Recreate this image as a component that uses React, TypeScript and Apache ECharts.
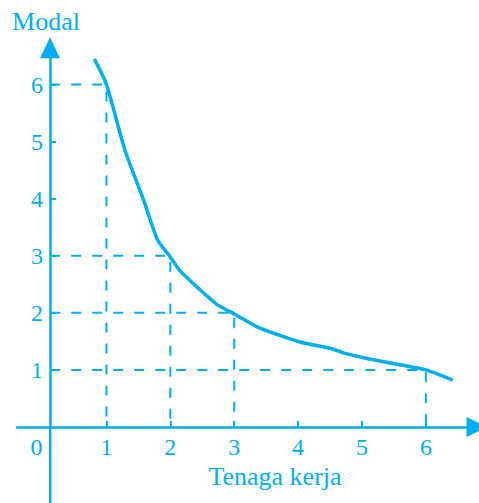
import React, { useEffect, useRef } from "react";
import * as echarts from "echarts";

const COLOR = "#00aeef";
const FONT = "Liberation Serif";

// axis tick labels
const xTicks = [1, 2, 3, 4, 5, 6];
const yTicks = [1, 2, 3, 4, 5, 6];

// isoquant curve (Tenaga kerja, Modal)
const curveX = [0.81, 1, 1.29, 1.58, 1.79, 1.9, 2, 2.15, 2.47, 2.73, 3, 3.35, 3.55, 4.03, 4.5, 4.71, 5.08, 5.6, 6, 6.42];
const curveY = [6.45, 6, 4.85, 3.98, 3.3, 3.12, 2.98, 2.74, 2.4, 2.15, 1.98, 1.76, 1.67, 1.49, 1.38, 1.3, 1.2, 1.09, 1, 0.82];

// highlighted combinations
const guideX = [1, 2, 3, 6];
const guideY = [6, 3, 2, 1];

// axis extents
const X_MIN = -0.4;
const X_MAX = 6.8;
const Y_MIN = 0;
const Y_MAX = 6.645;
const Y_BELOW = -1.35; // Modal axis continues below the origin
const Y_AXIS_AT = 0.12; // where the Modal axis crosses the Tenaga kerja axis

export default function App() {
  const ref = useRef<HTMLDivElement>(null);
  useEffect(() => {
    if (!ref.current) return;
    const chart = echarts.init(ref.current, null, { renderer: "svg" });
    const curve = curveX.map((x, i) => [x, curveY[i]]);
    const guides = guideX.map((x, i) => ({
      type: "line",
      data: [
        [Y_AXIS_AT, guideY[i]],
        [x, guideY[i]],
        [x, 0],
      ],
      symbol: "none",
      silent: true,
      z: 1,
      lineStyle: { color: COLOR, width: 2, type: [10, 11] },
    }));
    chart.setOption({
      animation: false,
      grid: {
        left: 17,
        right: 2,
        top: 47.8,
        bottom: 76,
        containLabel: false,
        outerBoundsMode: "none",
      },
      xAxis: {
        type: "value",
        min: X_MIN,
        max: X_MAX,
        name: "Tenaga kerja",
        nameLocation: "middle",
        nameGap: 36,
        nameTextStyle: {
          color: COLOR,
          fontFamily: FONT,
          fontSize: 26,
          padding: [0, 0, 0, 56],
        },
        axisLine: {
          onZero: false,
          symbol: ["none", "triangle"],
          symbolSize: [20, 21],
          lineStyle: { color: COLOR, width: 2.5 },
        },
        axisTick: {
          show: true,
          inside: true,
          length: 6,
          customValues: xTicks,
          lineStyle: { color: COLOR, width: 2 },
        },
        axisLabel: {
          show: true,
          customValues: [0, ...xTicks],
          margin: 8,
          color: COLOR,
          fontFamily: FONT,
          fontSize: 24,
          formatter: (v: number) => (v === 0 ? "{z|0}" : String(v)),
          rich: {
            z: {
              color: COLOR,
              fontFamily: FONT,
              fontSize: 24,
              padding: [0, 12, 0, 0],
            },
          },
        },
        splitLine: { show: false },
      },
      yAxis: {
        type: "value",
        min: Y_MIN,
        max: Y_MAX,
        position: "left",
        offset: -33,
        name: "Modal",
        nameLocation: "end",
        nameGap: 13,
        nameTextStyle: {
          color: COLOR,
          fontFamily: FONT,
          fontSize: 26,
          padding: [0, 8, 0, 0],
        },
        axisLine: {
          show: true,
          onZero: false,
          symbol: ["none", "triangle"],
          symbolSize: [20, 21],
          lineStyle: { color: COLOR, width: 2.5 },
        },
        axisTick: {
          show: true,
          inside: true,
          length: 6,
          customValues: yTicks,
          lineStyle: { color: COLOR, width: 2 },
        },
        axisLabel: {
          show: true,
          customValues: yTicks,
          margin: 7,
          color: COLOR,
          fontFamily: FONT,
          fontSize: 24,
        },
        splitLine: { show: false },
      },
      series: [
        {
          type: "line",
          data: [
            [Y_AXIS_AT, 0],
            [Y_AXIS_AT, Y_BELOW],
          ],
          symbol: "none",
          silent: true,
          clip: false,
          z: 2,
          lineStyle: { color: COLOR, width: 2.5 },
        },
        ...guides,
        {
          type: "line",
          data: curve,
          symbol: "none",
          smooth: 0.25,
          z: 3,
          lineStyle: { color: COLOR, width: 3.5 },
        },
      ],
    });
    return () => chart.dispose();
  }, []);
  return (
    <div
      ref={ref}
      style={{ position: "absolute", left: 0, top: 0, width: 479, height: 503, background: "#fff" }}
    />
  );
}
